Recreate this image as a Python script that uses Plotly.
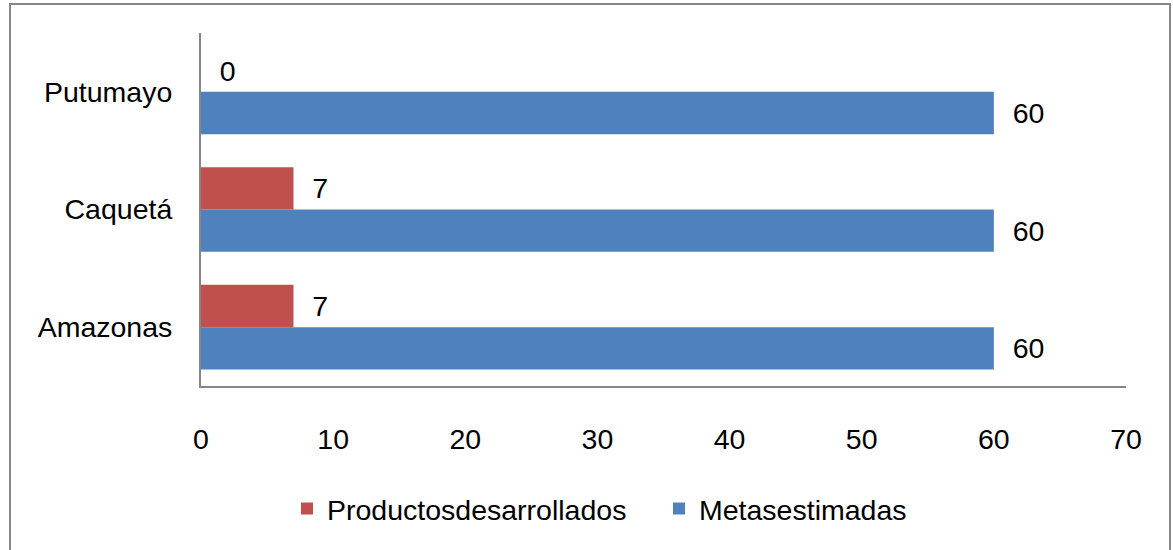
import plotly.graph_objects as go

categories = ["Amazonas", "Caquetá", "Putumayo"]
productos = [7, 7, 0]
metas = [60, 60, 60]
series_names = ["Productosdesarrollados", "Metasestimadas"]
x_ticks = [0, 10, 20, 30, 40, 50, 60, 70]

FONT = "Liberation Sans, Arial, sans-serif"
FS = 28.5
AXIS_COLOR = "#868686"
NB = "\u00a0\u00a0"

fig = go.Figure()
fig.add_trace(go.Bar(
    y=categories, x=metas, name=series_names[1], orientation="h",
    marker=dict(color="#4F81BD", line=dict(width=0)),
    text=metas, texttemplate=NB + "%{x}", textposition="outside",
    textfont=dict(family=FONT, size=FS, color="black"),
    cliponaxis=False, constraintext="none",
))
fig.add_trace(go.Bar(
    y=categories, x=productos, name=series_names[0], orientation="h",
    marker=dict(color="#C0504D", line=dict(width=0)),
    text=productos, texttemplate=NB + "%{x}", textposition="outside",
    textfont=dict(family=FONT, size=FS, color="black"),
    cliponaxis=False, constraintext="none",
    legendwidth=327,
))

W, H = 1173, 550
L, R, T, B = 201, 47, 33, 164
pw = W - L - R
ph = H - T - B

fig.update_layout(
    width=W, height=H,
    margin=dict(l=L, r=R, t=T, b=B),
    paper_bgcolor="white", plot_bgcolor="white",
    barmode="group", bargap=0.28, bargroupgap=0,
    font=dict(family=FONT, size=FS, color="black"),
    showlegend=True,
    legend=dict(
        orientation="h", traceorder="reversed",
        xref="container", yref="container",
        x=287 / W, xanchor="left", y=1 - 509 / H, yanchor="middle",
        font=dict(family=FONT, size=FS, color="black"),
        itemsizing="constant", itemwidth=30,
    ),
    xaxis=dict(
        range=[0, 70], tickvals=x_ticks, showgrid=False, zeroline=False,
        showline=True, linecolor=AXIS_COLOR, linewidth=2,
        ticks="", ticklabelstandoff=27,
        tickfont=dict(family=FONT, size=FS, color="black"),
    ),
    yaxis=dict(
        showgrid=False, zeroline=False,
        showline=True, linecolor=AXIS_COLOR, linewidth=2,
        ticks="", ticklabelstandoff=21,
        tickfont=dict(family=FONT, size=FS, color="black"),
    ),
    shapes=[dict(
        type="rect", xref="paper", yref="paper",
        x0=(10 - L) / pw, x1=(1170 - L) / pw,
        y0=(H - B - 560) / ph, y1=(H - B - 4) / ph,
        line=dict(color=AXIS_COLOR, width=2), fillcolor="rgba(0,0,0,0)",
        layer="below",
    )],
)

fig.write_html(
    "out.html",
    config={"displayModeBar": False},
    post_script="document.body.style.margin='0';document.body.style.padding='0';",
)
